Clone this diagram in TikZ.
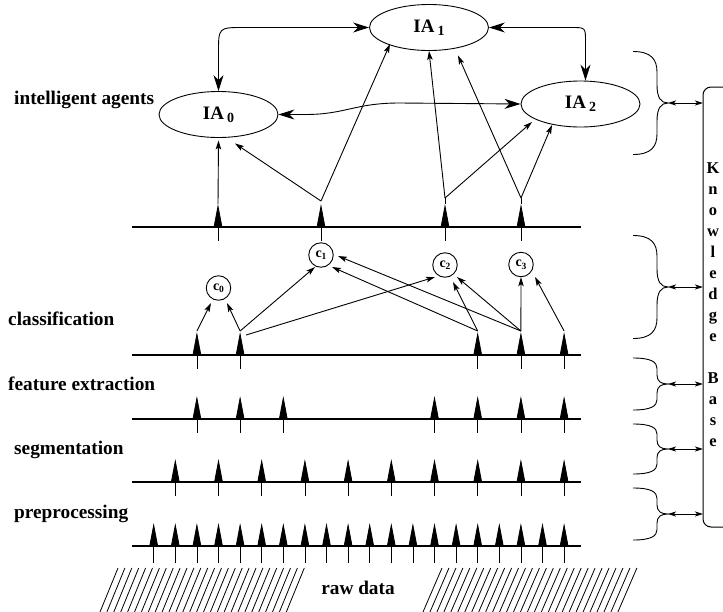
\documentclass[tikz,border=0pt]{standalone}
\usepackage{fontspec}
\setmainfont{Liberation Serif}
\usetikzlibrary{arrows.meta,calc,shapes.geometric}

\begin{document}
\begin{tikzpicture}[x=1pt, y=-1pt,
  agent/.style={ellipse, draw, line width=0.9pt, minimum width=119pt,
    minimum height=46pt, inner sep=0pt, font=\fontsize{19}{19}\selectfont\bfseries},
  cls/.style={circle, draw, line width=0.9pt, minimum size=24.5pt, inner sep=0pt,
    font=\fontsize{14}{14}\selectfont\bfseries},
  lab/.style={anchor=base west, inner sep=0pt, font=\fontsize{19.3}{20}\selectfont\bfseries},
  kbletter/.style={anchor=base, inner sep=0pt, font=\fontsize{16.5}{16.5}\selectfont\bfseries},
  layer/.style={line width=2.6pt},
  uparrow/.style={line width=0.8pt, -{Triangle[length=23pt,width=8.5pt]}},
  conn/.style={line width=0.9pt, -{Stealth[length=9pt,width=5.5pt,inset=2pt]}},
  bigconn/.style={line width=0.9pt,
    {Stealth[length=16pt,width=10pt,inset=5pt]}-{Stealth[length=16pt,width=10pt,inset=5pt]}},
  kbconn/.style={line width=0.9pt,
    {Stealth[length=8pt,width=5pt,inset=2pt]}-{Stealth[length=8pt,width=5pt,inset=2pt]}},
  bracestyle/.style={line width=0.9pt},
  hatch/.style={line width=0.8pt}]

\useasboundingbox (0,0) rectangle (723,611);

% ---- level labels
\node[lab] (lia)  at (14,104) {intelligent agents};
\node[lab] (lcl)  at (8,325)  {classification};
\node[lab] (lfe)  at (8,390)  {feature extraction};
\node[lab] (lseg) at (14,454) {segmentation};
\node[lab] (lpre) at (14,518) {preprocessing};

% ---- level lines
\foreach \ly in {227,355,419,482,546}
  \draw[layer] (132,\ly) -- (581,\ly);

% ---- upward arrows on each level
\foreach \xx in {218,321,445,521}
  \draw[uparrow] (\xx,241) -- (\xx,204);
\foreach \k in {2,4,17,19,15}
  \draw[uparrow] ({153.7+21.6*\k},369) -- ({153.7+21.6*\k},332);
\foreach \k in {2,4,6,13,15,17,19}
  \draw[uparrow] ({153.7+21.6*\k},433) -- ({153.7+21.6*\k},396);
\foreach \k in {1,3,...,19}
  \draw[uparrow] ({153.7+21.6*\k},496) -- ({153.7+21.6*\k},459);
\foreach \k in {0,...,19}
  \draw[uparrow] ({153.7+21.6*\k},563) -- ({153.7+21.6*\k},523);

% ---- intelligent agents
\node[agent] (IA0) at (218.5,114.5) {IA\,\raisebox{-3pt}{\fontsize{14}{14}\selectfont 0}};
\node[agent] (IA1) at (429,27.5)   {IA\,\raisebox{-3pt}{\fontsize{14}{14}\selectfont 1}};
\node[agent] (IA2) at (580.5,104)  {IA\,\raisebox{-3pt}{\fontsize{14}{14}\selectfont 2}};

% ---- classes
\node[cls] (c0) at (218.5,288) {c\raisebox{-2.5pt}{\fontsize{9.5}{9.5}\selectfont 0}};
\node[cls] (c1) at (321,255)   {c\raisebox{-2.5pt}{\fontsize{9.5}{9.5}\selectfont 1}};
\node[cls] (c2) at (445,265)   {c\raisebox{-2.5pt}{\fontsize{9.5}{9.5}\selectfont 2}};
\node[cls] (c3) at (521,264.5) {c\raisebox{-2.5pt}{\fontsize{9.5}{9.5}\selectfont 3}};

% ---- arrow tips of the top level and of the classification level
\coordinate (a0) at (218,204);
\coordinate (a1) at (321,201);
\coordinate (a2) at (445,198);
\coordinate (a3) at (521,198);
\coordinate (k0) at (196.9,331);
\coordinate (k1) at (240.1,331);
\coordinate (k2) at (477.7,331);
\coordinate (k3) at (520.9,331);
\coordinate (k4) at (564.1,331);

% ---- top level to agents
\draw[line width=0.8pt] (a2) -- (445,204);
\draw[line width=0.8pt] (a3) -- (521,204);
\draw[conn] (a0) -- ($(IA0.south)+(0,2.5)$);
\draw[conn] (a1) -- ($(IA0.south)+(16.5,5.5)$);
\draw[conn] (a1) -- ($(IA1.center)+(-39,16.5)$);
\draw[conn] (a2) -- (IA1.south);
\draw[conn] (a2) -- ($(IA2.center)+(-48.5,18)$);
\draw[conn] (a3) -- ($(IA1.south)+(29,4.5)$);
\draw[conn] (a3) -- ($(IA2.center)+(-28.5,21)$);

% ---- classification level to classes
\draw[conn] (k0) -- ($(c0.center)+(-7.5,15)$);
\draw[conn] (k1) -- ($(c0.center)+(8.5,15)$);
\draw[conn] (k1) -- ($(c1.center)+(-6,12)$);
\draw[conn] ($(k1)+(6,4)$) -- ($(c2.center)+(-10,12)$);
\draw[conn] (k2) -- ($(c2.center)+(8,17)$);
\draw[conn] (k2) -- ($(c1.center)+(11,12)$);
\draw[conn] (k3) -- (c3.south);
\draw[conn] (k3) -- ($(c2.center)+(12,12)$);
\draw[conn] (k3) -- ($(c1.center)+(17,1)$);
\draw[conn] (k4) -- ($(c3.center)+(14,12.5)$);

% ---- communication between agents
\coordinate (cA) at (IA0.north |- IA1.west);
\draw[bigconn] (IA1.west) -- ($(cA)+(25,0)$) .. controls (cA) .. ($(cA)+(0,25)$) -- (IA0.north);
\coordinate (n2) at ($(IA2.north)+(5,0)$);
\coordinate (cB) at (n2 |- IA1.east);
\draw[bigconn] (IA1.east) -- ($(cB)+(-14,0)$) .. controls (cB) .. ($(cB)+(0,14)$) -- (n2);
\draw[bigconn] (IA0.east) -- ($(IA0.east)+(27,0)$)
  .. controls ($(IA0.east)+(67,0)$) and ($(IA2.west)+(-166,-1)$) .. ($(IA2.west)+(-121,-1)$)
  -- (IA2.west);

% ---- knowledge base
\draw[line width=1pt, rounded corners=8pt] (724,87) -- (703,87) -- (703,527) -- (724,527);
\coordinate (kbedge) at (703,300);
\foreach \ch/\yy [count=\i] in {K/173,n/194,o/215,w/236,l/257,e/278,d/299,g/320,e/341,
                                 B/383,a/404,s/425,e/446}
  \node[kbletter] (kb\i) at (713,\yy) {\ch};

% ---- braces grouping each level, linked to the knowledge base
\foreach \ty/\hh [count=\i] in {103/51.5, 287/51.5, 384/26, 449/25, 514/26} {
  \draw[bracestyle] (633,{\ty-\hh})
    .. controls (651,{\ty-\hh}) and (657,{\ty-0.85*\hh}) .. (657,{\ty-0.6*\hh})
    -- (657,{\ty-0.35*\hh})
    .. controls (657,{\ty-0.1*\hh}) and (661,\ty) .. (668,\ty)
    .. controls (661,\ty) and (657,{\ty+0.1*\hh}) .. (657,{\ty+0.35*\hh})
    -- (657,{\ty+0.6*\hh})
    .. controls (657,{\ty+0.85*\hh}) and (651,{\ty+\hh}) .. (633,{\ty+\hh});
  \coordinate (bt\i) at (668,\ty);
  \draw[kbconn] (bt\i) -- (bt\i -| kbedge);
}

% ---- raw data
\foreach \i in {0,...,27}
  \draw[hatch] ({100+6.9*\i},612) -- ({118+6.9*\i},568);
\foreach \i in {0,...,28}
  \draw[hatch] ({423+6.96*\i},612) -- ({442+6.96*\i},568);
\node[anchor=base, inner sep=0pt, font=\fontsize{19.3}{20}\selectfont\bfseries] (raw) at (358,594) {raw data};

\end{tikzpicture}
\end{document}
